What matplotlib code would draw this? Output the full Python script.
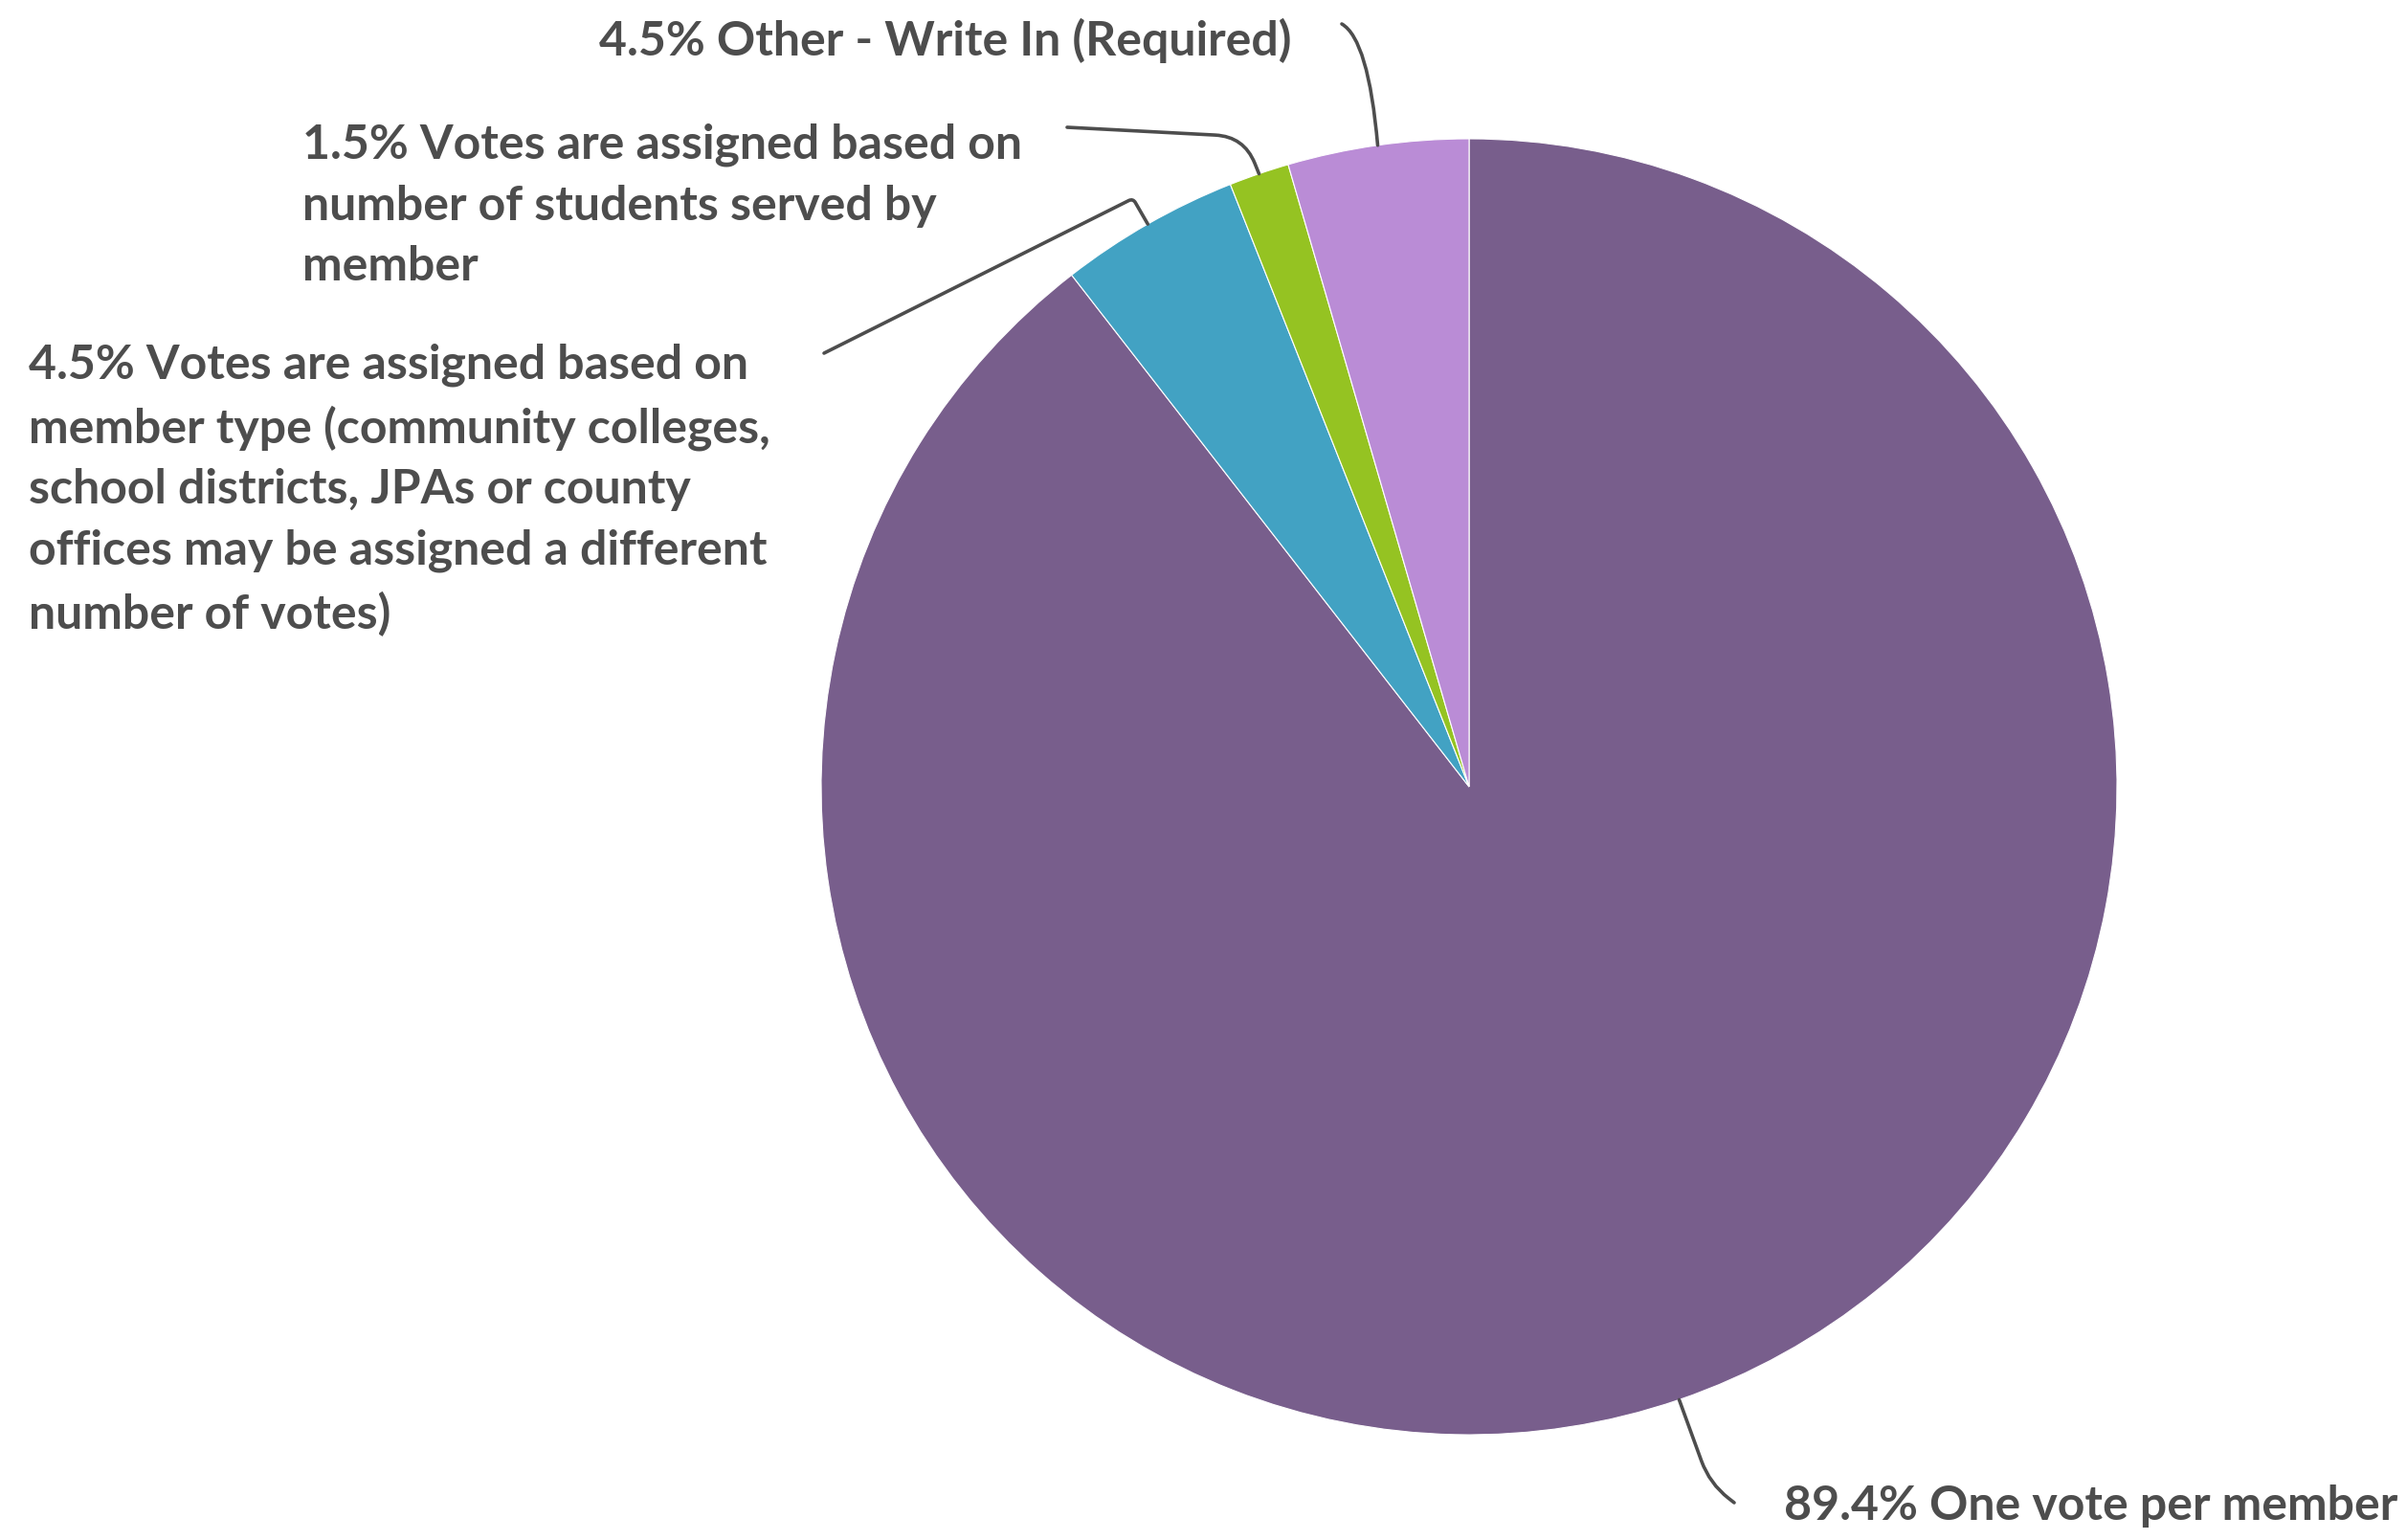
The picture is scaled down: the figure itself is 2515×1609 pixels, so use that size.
import numpy as np
import matplotlib
matplotlib.use("Agg")
import matplotlib.pyplot as plt

# --- data ---
labels = [
    "89.4% One vote per member",
    "4.5% Votes are assigned based on\nmember type (community colleges,\nschool districts, JPAs or county\noffices may be assigned a different\nnumber of votes)",
    "1.5% Votes are assigned based on\nnumber of students served by\nmember",
    "4.5% Other - Write In (Required)",
]
shares = [89.4, 4.5, 1.5, 4.5]
colors = ["#785E8C", "#42A2C3", "#95C322", "#BA8CD6"]

# label anchor = baseline of the last line (pixel coords, y down),
# leader start point near the text, connection style
label_pos = [(1864, 1588), (30, 657), (316, 293), (626, 58)]
leader_start = [(1812, 1570), (861, 369), (1115, 133), (1402, 25)]
leader_style = [
    "angle,angleA=-38,angleB=110,rad=25",
    "angle,angleA=26.6,angleB=120,rad=5",
    "angle,angleA=-3,angleB=112,rad=30",
    "angle3,angleA=-30,angleB=95",
]

TEXT_COLOR = "#4D4D4D"
W, H = 2515, 1609

plt.rcParams['font.family'] = ['Lato', 'DejaVu Sans']

fig = plt.figure(figsize=(W / 100, H / 100), dpi=100)
ax = fig.add_axes([0, 0, 1, 1])

wedges, _ = ax.pie(
    shares, colors=colors, startangle=90, counterclock=False,
    center=(1535, H - 822), radius=677,
    wedgeprops=dict(edgecolor="white", linewidth=0.8),
)
ax.set_xlim(0, W)
ax.set_ylim(0, H)
ax.axis("off")

for w, lab, (tx, ty), (sx, sy), style in zip(wedges, labels, label_pos, leader_start, leader_style):
    # va=baseline puts the last line's baseline on the anchor
    ax.text(tx, H - ty, lab, ha="left", va="baseline", fontsize=36,
            fontweight="bold", color=TEXT_COLOR, linespacing=1.5)
    ang = np.deg2rad((w.theta1 + w.theta2) / 2)
    cx, cy = w.center
    ex, ey = cx + w.r * np.cos(ang), cy + w.r * np.sin(ang)
    ax.annotate("", xy=(ex, ey), xytext=(sx, H - sy),
                arrowprops=dict(arrowstyle="-", color=TEXT_COLOR, lw=2.6,
                                connectionstyle=style, shrinkA=0, shrinkB=0))

fig.savefig("out.png", dpi=100, facecolor="white")
